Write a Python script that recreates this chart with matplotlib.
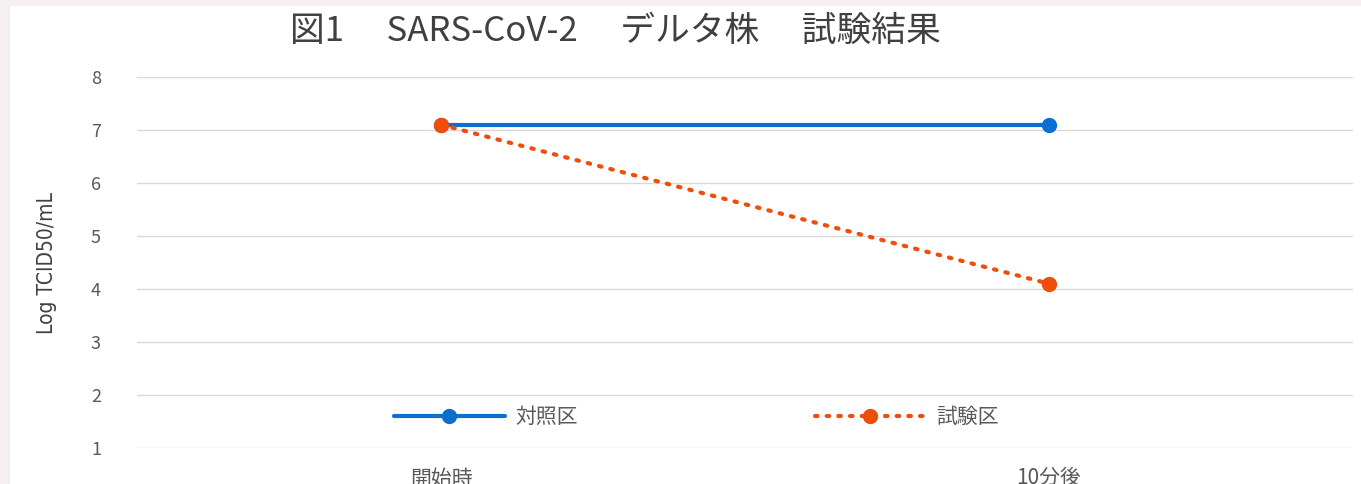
import matplotlib.pyplot as plt
from matplotlib.patches import Rectangle

plt.rcParams['font.family'] = ['Noto Sans CJK JP', 'DejaVu Sans']

# data
categories = ['開始時', '10分後']
control = [7.1, 7.1]     # 対照区
test = [7.1, 4.1]        # 試験区
series_names = ['対照区', '試験区']
yticks = [1, 2, 3, 4, 5, 6, 7, 8]

fig = plt.figure(figsize=(13.61, 4.84), dpi=100, facecolor='#f6efef')
# white chart area over the pinkish page background
fig.patches.append(Rectangle((10/1361, 0), 1 - 10/1361, 1 - 6/484,
                             transform=fig.transFigure, facecolor='white',
                             edgecolor='none', zorder=-5))

ax = fig.add_axes([137/1361, 1 - 448/484, (1353 - 137)/1361, (448 - 77)/484])
ax.set_facecolor('none')

x = range(len(categories))
ax.plot(x, control, color='#0b6fd2', lw=3, marker='o', ms=10,
        solid_capstyle='round', label=series_names[0], zorder=3)
ax.plot(x, test, color='#f04c0a', lw=3, ls=(0, (0.6, 2.2)), marker='o', ms=10,
        dash_capstyle='round', label=series_names[1], zorder=3)

ax.set_xlim(-0.5, 1.5)
ax.set_ylim(1, 8)
ax.set_yticks(yticks)
ax.set_xticks(list(x))
ax.set_xticklabels(categories)
ax.grid(axis='y', color='#d9d9d9', lw=1)
ax.set_axisbelow(True)
for s in ax.spines.values():
    s.set_visible(False)
ax.tick_params(length=0, colors='#595959', labelsize=13)
ax.tick_params(axis='y', pad=26)
ax.tick_params(axis='x', pad=14, labelsize=15)

ax.set_ylabel('Log TCID50/mL', fontsize=15, color='#404040', labelpad=24,
              family=['DejaVu Sans'], stretch='condensed')

fig.text(0.452, 1 - 31/484, '図1　 SARS-CoV-2　 デルタ株　 試験結果',
         ha='center', va='center', fontsize=25, color='#404040')

ax.legend(loc='center', bbox_to_anchor=(0.46, 0.084), ncol=2, frameon=False,
          fontsize=15, handlelength=5.3, handletextpad=0.5, columnspacing=11.4,
          labelcolor='#595959')

fig.savefig('out.png', dpi=100, facecolor=fig.get_facecolor())
